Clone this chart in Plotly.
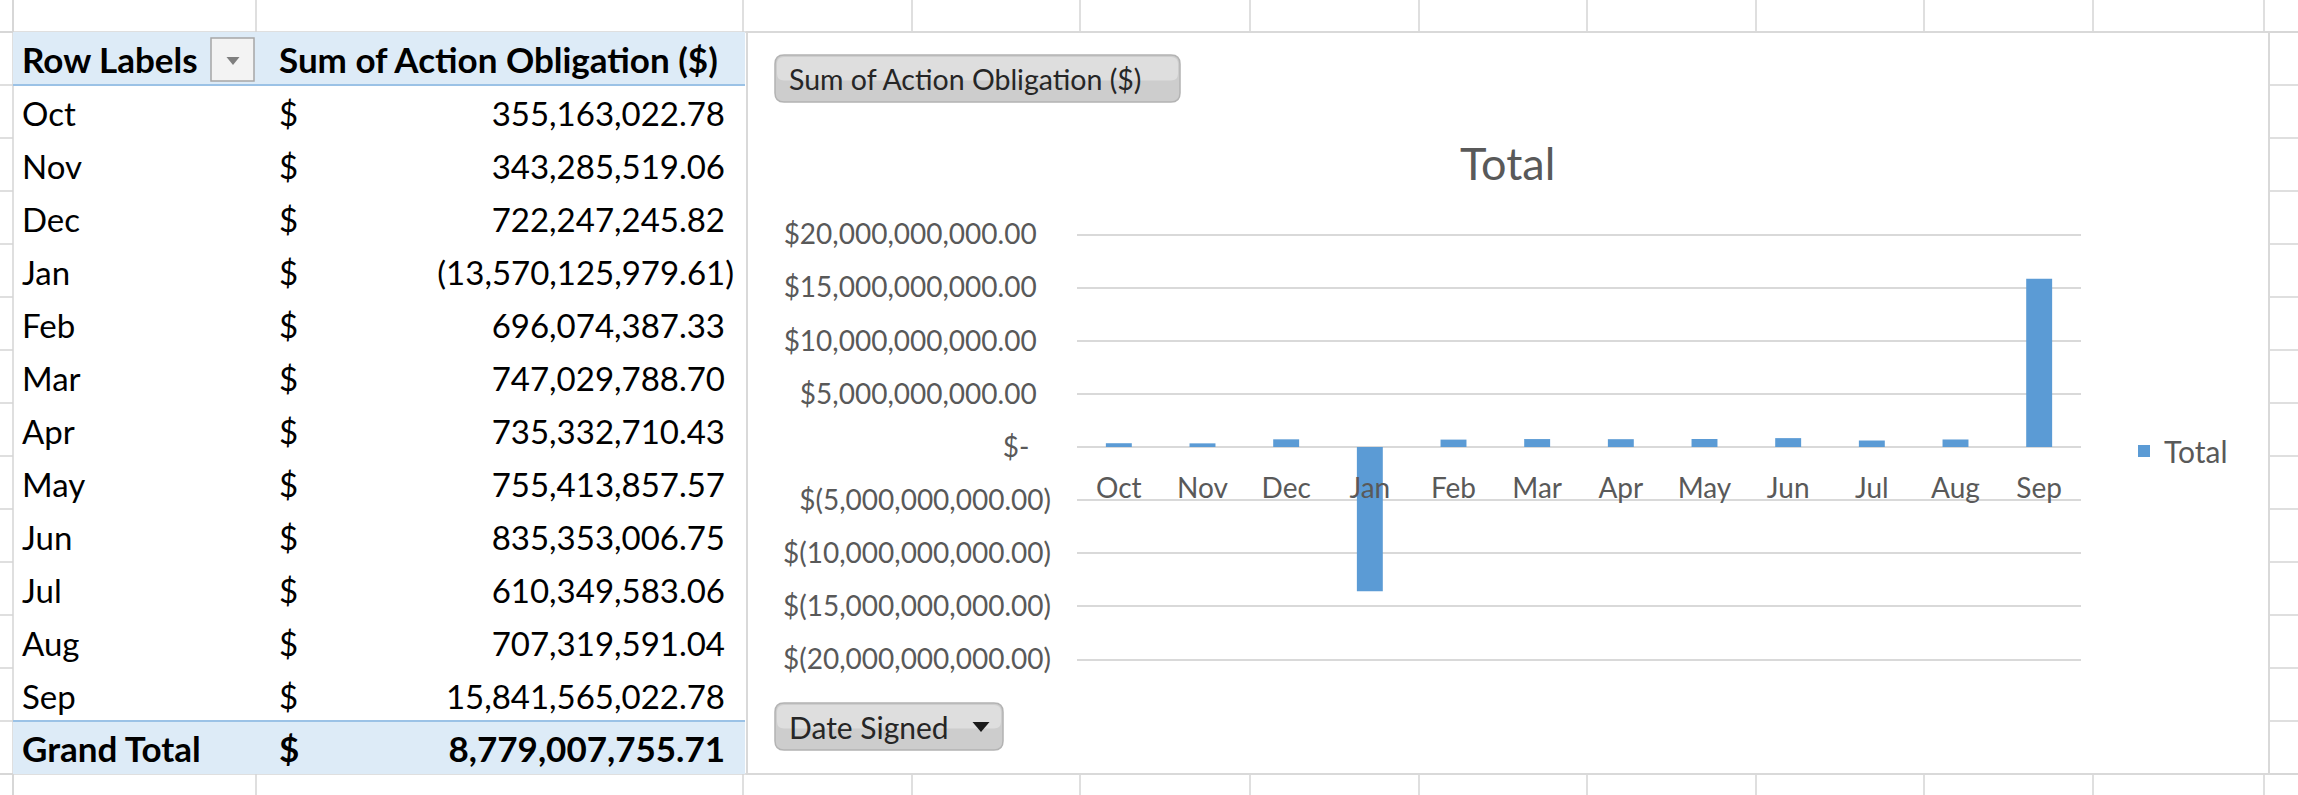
import plotly.graph_objects as go

# ---------------- data ----------------
months = ["Oct", "Nov", "Dec", "Jan", "Feb", "Mar", "Apr", "May", "Jun", "Jul", "Aug", "Sep"]
obligations = [355163022.78, 343285519.06, 722247245.82, -13570125979.61, 696074387.33,
               747029788.70, 735332710.43, 755413857.57, 835353006.75, 610349583.06,
               707319591.04, 15841565022.78]
grand_total = 8779007755.71
series_name = "Total"
table_header = ["Row Labels", "Sum of Action Obligation ($)"]
total_label = "Grand Total"
y_tick_values = [20e9, 15e9, 10e9, 5e9, 0, -5e9, -10e9, -15e9, -20e9]
y_tick_labels = ["$20,000,000,000.00", "$15,000,000,000.00", "$10,000,000,000.00",
                 "$5,000,000,000.00", "$-", "$(5,000,000,000.00)", "$(10,000,000,000.00)",
                 "$(15,000,000,000.00)", "$(20,000,000,000.00)"]
value_button = "Sum of Action Obligation ($)"
axis_button = "Date Signed"
chart_title = "Total"

# ---------------- geometry helpers ----------------
W, H = 2298, 795
FONT = "Lato"
AX_GREY = "#595959"


def fx(x):
    return x / W


def fy(y):
    return 1 - y / H


def acct(v):
    s = f"{abs(v):,.2f}"
    return f"({s})" if v < 0 else s


PLOT_L, PLOT_R, PLOT_T, PLOT_B = 1077, 2081, 234.5, 659.5
Y_MAX = 20e9
Y_PAD = 0.3e9
PX_PER_UNIT = (PLOT_B - PLOT_T) / (2 * Y_MAX)
ZERO_Y = (PLOT_T + PLOT_B) / 2
ROW_TOP, ROW_BOT = 32, 774
N_ROWS = len(months) + 2
ROW_H = (ROW_BOT - ROW_TOP) / N_ROWS
TEXT_DY = 0.11  # text nudge within a row (row units)

fig = go.Figure()

# ---------------- chart ----------------
fig.add_trace(go.Bar(x=months, y=obligations, width=0.31, name=series_name,
                     marker=dict(color="#5B9BD5", line=dict(width=0)),
                     xaxis="x", yaxis="y", hoverinfo="x+y"))

# ---------------- pivot table (text on x2/y2: x in px, y = row index) ----------------
rows_idx = [i + 1 + TEXT_DY for i in range(len(months))]
total_idx = len(months) + 1
hdr_y = 0 + TEXT_DY
tot_y = total_idx + TEXT_DY
reg = dict(family=FONT, size=33, color="#000000")
bold = dict(family=FONT, size=35, color="#000000", weight="bold")

fig.add_trace(go.Scatter(x=[22] * len(months), y=rows_idx, text=months, mode="text",
                         textposition="middle right", textfont=reg, xaxis="x2", yaxis="y2",
                         showlegend=False, hoverinfo="skip"))
fig.add_trace(go.Scatter(x=[22, 22], y=[hdr_y, tot_y], text=[table_header[0], total_label],
                         mode="text", textposition="middle right", textfont=bold,
                         xaxis="x2", yaxis="y2", showlegend=False, hoverinfo="skip"))
fig.add_trace(go.Scatter(x=[279] * len(months), y=rows_idx, text=["$"] * len(months), mode="text",
                         textposition="middle right", textfont=reg, xaxis="x2", yaxis="y2",
                         showlegend=False, hoverinfo="skip"))
fig.add_trace(go.Scatter(x=[279, 279], y=[hdr_y, tot_y], text=[table_header[1], "$"],
                         mode="text", textposition="middle right", textfont=bold,
                         xaxis="x2", yaxis="y2", showlegend=False, hoverinfo="skip"))
fig.add_trace(go.Scatter(x=[734 if v < 0 else 725 for v in obligations], y=rows_idx,
                         text=[acct(v) for v in obligations], mode="text",
                         textposition="middle left", textfont=reg, xaxis="x2", yaxis="y2",
                         showlegend=False, hoverinfo="skip"))
fig.add_trace(go.Scatter(x=[734 if grand_total < 0 else 725], y=[tot_y],
                         text=[acct(grand_total)], mode="text",
                         textposition="middle left", textfont=bold, xaxis="x2", yaxis="y2",
                         showlegend=False, hoverinfo="skip"))

shapes = []
GRID = "#d4d4d4"


def pline(x0, y0, x1, y1, color=GRID, w=1.5):
    shapes.append(dict(type="line", xref="paper", yref="paper", x0=fx(x0), y0=fy(y0),
                       x1=fx(x1), y1=fy(y1), line=dict(color=color, width=w), layer="below"))


# sheet gridlines (visible strips)
col_lines = [13, 256, 743, 912, 1080, 1250, 1419, 1587, 1756, 1924, 2093, 2264]
for cx in col_lines:
    pline(cx, 0, cx, ROW_TOP)
    pline(cx, ROW_BOT, cx, H)
pline(13, 0, 13, H)
for k in range(N_ROWS + 1):
    ry = ROW_TOP + k * ROW_H
    pline(0, ry, 13, ry)
    pline(2269, ry, W, ry)
pline(0, ROW_TOP, W, ROW_TOP)
pline(0, ROW_BOT, W, ROW_BOT)

# header & total bands
for idx in (0, total_idx):
    shapes.append(dict(type="rect", xref="x2", yref="y2", x0=13, x1=745, y0=idx - 0.5, y1=idx + 0.5,
                       fillcolor="#DDEBF7", line=dict(width=0), layer="below"))
shapes.append(dict(type="line", xref="x2", yref="y2", x0=13, x1=745, y0=0.5, y1=0.5,
                   line=dict(color="#9BC2E6", width=2)))
shapes.append(dict(type="line", xref="x2", yref="y2", x0=13, x1=745, y0=total_idx - 0.5,
                   y1=total_idx - 0.5, line=dict(color="#9BC2E6", width=2)))

# dropdown box in header
shapes.append(dict(type="rect", xref="paper", yref="paper", x0=fx(211), x1=fx(254), y0=fy(81), y1=fy(38),
                   fillcolor="#f3f3f3", line=dict(color="#a6a6a6", width=1.5)))


def tri(cx, cy, w, h, color):
    p = f"M {fx(cx - w / 2)},{fy(cy - h / 2)} L {fx(cx + w / 2)},{fy(cy - h / 2)} L {fx(cx)},{fy(cy + h / 2)} Z"
    shapes.append(dict(type="path", xref="paper", yref="paper", path=p, fillcolor=color,
                       line=dict(width=0)))


tri(233, 61, 13, 8, "#7f7f7f")

# chart border
shapes.append(dict(type="rect", xref="paper", yref="paper", x0=fx(747), x1=fx(2269), y0=fy(ROW_BOT), y1=fy(ROW_TOP),
                   fillcolor="rgba(0,0,0,0)", line=dict(color="#d9d9d9", width=2)))


def rrect(x0, y0, x1, y1, r):
    return (f"M {fx(x0 + r)},{fy(y0)} L {fx(x1 - r)},{fy(y0)} Q {fx(x1)},{fy(y0)} {fx(x1)},{fy(y0 + r)} "
            f"L {fx(x1)},{fy(y1 - r)} Q {fx(x1)},{fy(y1)} {fx(x1 - r)},{fy(y1)} "
            f"L {fx(x0 + r)},{fy(y1)} Q {fx(x0)},{fy(y1)} {fx(x0)},{fy(y1 - r)} "
            f"L {fx(x0)},{fy(y0 + r)} Q {fx(x0)},{fy(y0)} {fx(x0 + r)},{fy(y0)} Z")


for (bx0, by0, bx1, by1) in [(775, 55, 1180, 102), (775, 703, 1003, 750)]:
    shapes.append(dict(type="path", xref="paper", yref="paper", path=rrect(bx0, by0, bx1, by1, 9),
                       fillcolor="#cdcdcd", line=dict(color="#b3b3b3", width=1.5)))
    shapes.append(dict(type="path", xref="paper", yref="paper",
                       path=rrect(bx0 + 2, by0 + 2, bx1 - 2, (by0 + by1) / 2 + 2, 7),
                       fillcolor="rgba(255,255,255,0.35)", line=dict(width=0)))
tri(981, 727, 17, 10, "#1a1a1a")

annotations = [
    dict(text=chart_title, xref="paper", yref="paper", x=fx(1507), y=fy(163), xanchor="center",
         yanchor="middle", showarrow=False, font=dict(family=FONT, size=45, color=AX_GREY)),
    dict(text=value_button, xref="paper", yref="paper", x=fx(787), y=fy(79), xanchor="left",
         yanchor="middle", showarrow=False, font=dict(family=FONT, size=28.5, color="#262626")),
    dict(text=axis_button, xref="paper", yref="paper", x=fx(787), y=fy(727), xanchor="left",
         yanchor="middle", showarrow=False, font=dict(family=FONT, size=30, color="#262626")),
]


def pad_tick(lbl):
    if lbl.endswith(")"):
        return lbl
    if lbl == "$-":
        return lbl + "\u00a0\u00a0\u00a0"
    return lbl + "\u00a0\u00a0"


axis_font = dict(family=FONT, size=28, color=AX_GREY)
fig.update_layout(
    template="none",
    width=W, height=H, autosize=False,
    margin=dict(l=0, r=0, t=0, b=0, pad=0),
    paper_bgcolor="white", plot_bgcolor="rgba(0,0,0,0)",
    xaxis=dict(domain=[fx(PLOT_L), fx(PLOT_R)], type="category", range=[-0.5, len(months) - 0.5],
               anchor="free", position=fy(ZERO_Y), showgrid=False, zeroline=False, showline=False,
               ticks="", tickfont=axis_font, ticklabelstandoff=22, fixedrange=True, automargin=False),
    yaxis=dict(domain=[fy(PLOT_B + Y_PAD * PX_PER_UNIT), fy(PLOT_T - Y_PAD * PX_PER_UNIT)],
               range=[-Y_MAX - Y_PAD, Y_MAX + Y_PAD], tickvals=y_tick_values,
               ticktext=[pad_tick(t) for t in y_tick_labels], showgrid=True, gridcolor="#d9d9d9",
               gridwidth=1.5, zeroline=True, zerolinecolor="#d9d9d9", zerolinewidth=1.5,
               showline=False, ticks="", tickfont=axis_font, ticklabelstandoff=25,
               anchor="x", fixedrange=True, automargin=False),
    xaxis2=dict(domain=[0, 1], range=[0, W], visible=False, anchor="y2", fixedrange=True,
                automargin=False),
    yaxis2=dict(domain=[fy(ROW_BOT), fy(ROW_TOP)], range=[N_ROWS - 0.5, -0.5], visible=False,
                anchor="x2", fixedrange=True, automargin=False),
    showlegend=True,
    legend=dict(x=fx(2124), y=fy(451), xanchor="left", yanchor="middle",
                font=dict(family=FONT, size=30, color=AX_GREY),
                bgcolor="rgba(0,0,0,0)", borderwidth=0),
    shapes=shapes, annotations=annotations,
)

fig.write_html("out.html", config={"displayModeBar": False},
               post_script="document.body.style.margin='0';document.body.style.overflow='hidden';")
